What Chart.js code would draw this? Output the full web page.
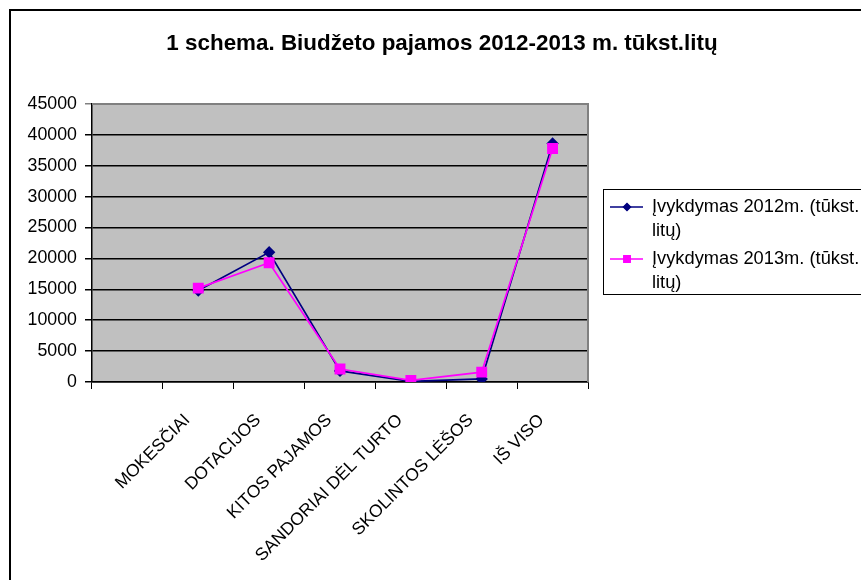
<!DOCTYPE html>
<html>
<head>
<meta charset="utf-8">
<script src="https://cdn.jsdelivr.net/npm/chart.js@4.4.0/dist/chart.umd.min.js"></script>
<style>
  html, body { margin: 0; padding: 0; background: #fff; }
  #wrap { width: 861px; height: 580px; position: relative; }
</style>
</head>
<body>
<div id="wrap"><canvas id="chart"></canvas></div>
<script>
// data
const categories = ['', 'MOKESČIAI', 'DOTACIJOS', 'KITOS PAJAMOS', 'SANDORIAI DĖL TURTO', 'SKOLINTOS LĖŠOS', 'IŠ VISO'];
const vykdymas2012 = [null, 14800, 21000, 1800, 100, 500, 38600];
const vykdymas2013 = [null, 15200, 19300, 2100, 250, 1600, 37800];
const label2012 = ['Įvykdymas 2012m. (tūkst.', 'litų)'];
const label2013 = ['Įvykdymas 2013m. (tūkst.', 'litų)'];
const yMin = 0, yMax = 45000, yStep = 5000;
const title = '1 schema. Biudžeto pajamos 2012-2013 m. tūkst.litų';

const FONT = "'Liberation Sans', Arial, sans-serif";

// frame, grey plot area, title
const backdrop = {
  id: 'backdrop',
  beforeDraw(chart) {
    const ctx = chart.ctx, a = chart.chartArea;
    ctx.save();
    ctx.fillStyle = '#fff';
    ctx.fillRect(0, 0, chart.width, chart.height);
    ctx.lineWidth = 2;
    ctx.strokeStyle = '#000';
    ctx.strokeRect(10, 10, 900, 620);
    ctx.fillStyle = '#c0c0c0';
    ctx.fillRect(a.left, a.top, a.right - a.left, a.bottom - a.top);
    ctx.fillStyle = '#000';
    ctx.font = 'bold 22.4px ' + FONT;
    ctx.textAlign = 'center';
    ctx.textBaseline = 'middle';
    ctx.fillText(title, 442, 44);
    ctx.restore();
  },
  afterDatasetsDraw(chart) {
    const ctx = chart.ctx, a = chart.chartArea;
    ctx.save();
    ctx.strokeStyle = '#808080';
    ctx.lineWidth = 2;
    ctx.beginPath();
    ctx.moveTo(a.left, a.top);
    ctx.lineTo(a.right, a.top);
    ctx.lineTo(a.right, a.bottom);
    ctx.stroke();
    ctx.restore();
  }
};

// legend box with wrapped labels
const boxLegend = {
  id: 'boxLegend',
  afterDraw(chart) {
    const ctx = chart.ctx;
    ctx.save();
    ctx.strokeStyle = '#000';
    ctx.lineWidth = 1;
    ctx.strokeRect(603.5, 189.5, 300, 105);
    ctx.font = '18.3px ' + FONT;
    ctx.textBaseline = 'middle';
    ctx.textAlign = 'left';
    chart.data.datasets.forEach((ds, i) => {
      const y = 207 + i * 52;
      ctx.strokeStyle = ds.borderColor;
      ctx.lineWidth = 1.5;
      ctx.beginPath();
      ctx.moveTo(610, y);
      ctx.lineTo(643, y);
      ctx.stroke();
      Chart.helpers.drawPoint(ctx, {
        pointStyle: ds.pointStyle, radius: i === 0 ? 3.5 : 4.5, borderWidth: 1
      }, 627, y);
      ctx.fillStyle = ds.pointBackgroundColor;
      ctx.fill();
      ctx.fillStyle = '#000';
      ds.legendLines.forEach((t, k) => ctx.fillText(t, 652, y + k * 24));
    });
    ctx.restore();
  }
};

new Chart(document.getElementById('chart'), {
  type: 'line',
  data: {
    labels: categories,
    datasets: [{
      label: label2012.join(' '),
      legendLines: label2012,
      data: vykdymas2012,
      borderColor: '#000080',
      backgroundColor: '#000080',
      pointBackgroundColor: '#000080',
      pointBorderColor: '#000080',
      pointStyle: 'rectRot',
      pointRadius: 5,
      borderWidth: 1.7,
      tension: 0,
      order: 1
    }, {
      label: label2013.join(' '),
      legendLines: label2013,
      data: vykdymas2013,
      borderColor: '#ff00ff',
      backgroundColor: '#ff00ff',
      pointBackgroundColor: '#ff00ff',
      pointBorderColor: '#ff00ff',
      pointStyle: 'rect',
      pointRadius: 6.5,
      borderWidth: 1.7,
      tension: 0,
      order: 0
    }]
  },
  options: {
    responsive: true,
    maintainAspectRatio: false,
    animation: false,
    layout: { padding: { top: 104, right: 273, left: 0, bottom: 0 } },
    plugins: {
      legend: { display: false },
      title: { display: false },
      tooltip: { enabled: false }
    },
    scales: {
      x: {
        offset: true,
        grid: { offset: true, drawOnChartArea: false, drawTicks: true, tickLength: 7, color: '#000' },
        border: { color: '#000', width: 1.5 },
        ticks: {
          color: '#000', font: { family: FONT, size: 17.5 },
          minRotation: 45, maxRotation: 45, autoSkip: false, padding: 21, labelOffset: -11
        },
        afterFit(scale) { scale.height = 198; }
      },
      y: {
        min: yMin, max: yMax,
        grid: {
          color: ctx => ctx.tick && ctx.tick.value === yMax ? '#808080' : '#000',
          lineWidth: 1.5, tickLength: 7
        },
        border: { color: '#000', width: 1.5 },
        ticks: {
          stepSize: yStep, color: '#000', font: { family: FONT, size: 17.8 }, padding: 8,
          callback: v => String(v)
        },
        afterFit(scale) { scale.width = 92; }
      }
    }
  },
  plugins: [backdrop, boxLegend]
});
</script>
</body>
</html>
